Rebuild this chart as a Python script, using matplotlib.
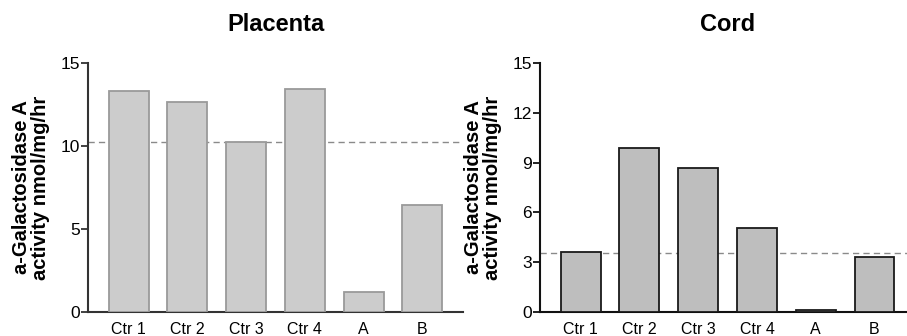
import matplotlib
matplotlib.use('Agg')
import matplotlib.pyplot as plt

plt.rcParams['font.family'] = ['Liberation Sans', 'DejaVu Sans']

labels = ['Ctr 1', 'Ctr 2', 'Ctr 3', 'Ctr 4', 'A', 'B']
placenta = [13.33, 12.63, 10.24, 13.45, 1.19, 6.46]
placenta_ref = 10.24
cord = [3.59, 9.88, 8.65, 5.06, 0.1, 3.29]
cord_ref = 3.55
ylabel = 'a-Galactosidase A\nactivity nmol/mg/hr'

fig = plt.figure(figsize=(9.07, 3.36), dpi=100)

def panel(rect, title, vals, ref, yticks, face, edge, spine):
    ax = fig.add_axes(rect)
    x = range(len(vals))
    ax.bar(x, vals, width=0.68, color=face, edgecolor=edge, linewidth=1.3, zorder=3)
    ax.axhline(ref, color='#8a8a8a', linestyle=(0, (4.5, 3)), linewidth=1.0, zorder=1)
    ax.set_xlim(-0.69, 5.69)
    ax.set_ylim(0, 15)
    ax.set_yticks(yticks)
    ax.set_xticks(list(x))
    ax.set_xticklabels(labels, fontsize=11.5)
    ax.tick_params(axis='x', length=0, pad=7)
    ax.tick_params(axis='y', length=5, width=1.3, labelsize=12.5, pad=1, color=spine)
    for s in ['top', 'right']:
        ax.spines[s].set_visible(False)
    for s in ['left', 'bottom']:
        ax.spines[s].set_linewidth(1.5)
        ax.spines[s].set_color(spine)
    ax.set_ylabel(ylabel, fontsize=14.5, fontweight='bold', labelpad=7, linespacing=1.0)
    ax.set_title(title, fontsize=17, fontweight='bold', pad=23)
    return ax

panel([0.097, 0.0714, 0.4135, 0.741], 'Placenta', placenta, placenta_ref,
      [0, 5, 10, 15], '#cccccc', '#9a9a9a', '#333333')
panel([0.5954, 0.0714, 0.4135, 0.741], 'Cord', cord, cord_ref,
      [0, 3, 6, 9, 12, 15], '#bebebe', '#1a1a1a', '#111111')

fig.savefig('out.png', dpi=100)
